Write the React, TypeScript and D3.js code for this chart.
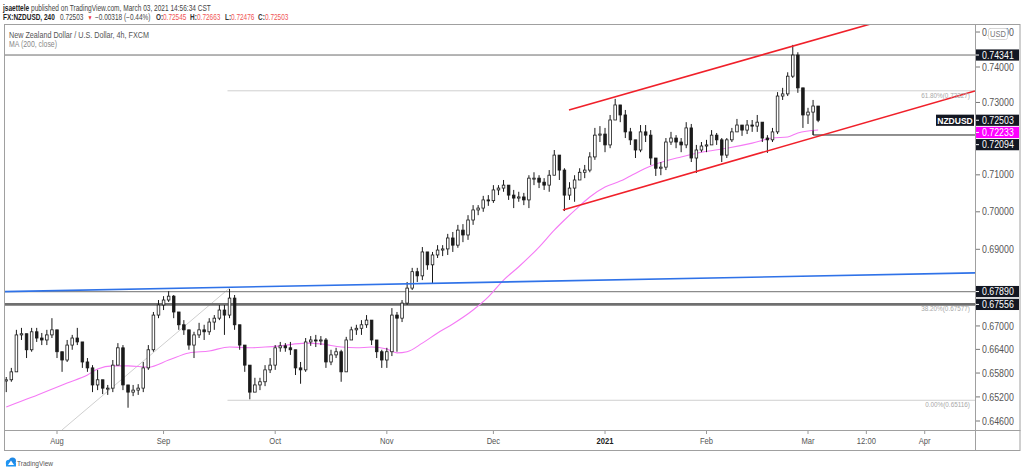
import React, { useEffect } from "react";
import * as d3 from "d3";

// ---- Daily OHLC (NZDUSD, Jul 20 2020 .. Mar 3 2021, trading days) ----
const firstOpen = 0.656;
const closes = [
  0.6563, 0.6583, 0.6677, 0.668, 0.6639, 0.6685, 0.6669, 0.6664, 0.6677, 0.669,
  0.6634, 0.6613, 0.6651, 0.6669, 0.6659, 0.6608, 0.6593, 0.655, 0.6563, 0.6542,
  0.6542, 0.66, 0.6644, 0.655, 0.6532, 0.6537, 0.6542, 0.6593, 0.6639, 0.6728,
  0.6754, 0.6767, 0.6777, 0.6736, 0.6703, 0.669, 0.6651, 0.6677, 0.669, 0.6685,
  0.671, 0.672, 0.6741, 0.6728, 0.6772, 0.6703, 0.6651, 0.66, 0.6532, 0.655,
  0.6558, 0.6588, 0.66, 0.6644, 0.6649, 0.6644, 0.6639, 0.6593, 0.6588, 0.6659,
  0.6664, 0.6662, 0.6664, 0.6608, 0.6626, 0.6634, 0.6583, 0.6664, 0.669, 0.6694,
  0.6703, 0.6715, 0.6664, 0.6634, 0.6613, 0.6634, 0.6728, 0.672, 0.6759, 0.6798,
  0.6841, 0.683, 0.6893, 0.6859, 0.6885, 0.6898, 0.6901, 0.693, 0.6911, 0.6951,
  0.6938, 0.6978, 0.7005, 0.701, 0.7032, 0.703, 0.7059, 0.7064, 0.7072, 0.7045,
  0.7037, 0.704, 0.7032, 0.7091, 0.7091, 0.708, 0.7072, 0.7099, 0.7154, 0.7113,
  0.7045, 0.7064, 0.7086, 0.7107, 0.7113, 0.7149, 0.7209, 0.7212, 0.7182, 0.7251,
  0.7293, 0.7265, 0.7218, 0.7196, 0.7168, 0.7218, 0.7209, 0.7146, 0.7118, 0.7121,
  0.719, 0.7201, 0.719, 0.7182, 0.7229, 0.7146, 0.7168, 0.7179, 0.7182, 0.7209,
  0.7196, 0.7154, 0.7196, 0.7218, 0.7237, 0.7223, 0.7237, 0.7234, 0.7245, 0.7201,
  0.7196, 0.7218, 0.7318, 0.7324, 0.7374, 0.7434, 0.7341, 0.7265, 0.7273, 0.729,
  0.72503,
];
const highs = [
  0.657, 0.6593, 0.669, 0.6695, 0.6677, 0.6695, 0.6695, 0.6682, 0.669, 0.672,
  0.669, 0.6634, 0.6664, 0.6677, 0.6695, 0.6659, 0.6618, 0.66, 0.6588, 0.6558,
  0.655, 0.6613, 0.6656, 0.6651, 0.655, 0.655, 0.6552, 0.6608, 0.6651, 0.6736,
  0.6767, 0.6777, 0.679, 0.678, 0.6728, 0.6715, 0.669, 0.6685, 0.6708, 0.6703,
  0.672, 0.6728, 0.6754, 0.6754, 0.6796, 0.678, 0.6703, 0.6651, 0.66, 0.6568,
  0.6568, 0.66, 0.6618, 0.6651, 0.6659, 0.6656, 0.6659, 0.6639, 0.6608, 0.6669,
  0.6674, 0.6677, 0.6674, 0.6669, 0.6639, 0.6644, 0.6639, 0.6672, 0.6698, 0.6703,
  0.6715, 0.6728, 0.6715, 0.6664, 0.6639, 0.6644, 0.6746, 0.6736, 0.6767, 0.6814,
  0.6851, 0.6851, 0.6906, 0.6893, 0.6893, 0.6911, 0.6911, 0.6941, 0.6946, 0.6965,
  0.6967, 0.6991, 0.7018, 0.7018, 0.7043, 0.7045, 0.7072, 0.7072, 0.7086, 0.7072,
  0.7059, 0.7054, 0.7051, 0.7099, 0.7107, 0.7099, 0.7091, 0.7113, 0.7168, 0.7146,
  0.7118, 0.708, 0.7099, 0.7118, 0.7127, 0.7162, 0.7229, 0.7234, 0.7229, 0.7265,
  0.731, 0.7293, 0.7279, 0.7229, 0.7196, 0.7237, 0.7237, 0.7223, 0.7146, 0.7135,
  0.7201, 0.7218, 0.7209, 0.7201, 0.7245, 0.724, 0.7182, 0.719, 0.7196, 0.7223,
  0.7215, 0.7201, 0.7201, 0.7229, 0.7254, 0.7237, 0.7251, 0.7251, 0.7265, 0.7245,
  0.7209, 0.7229, 0.7329, 0.7341, 0.7385, 0.7463, 0.7442, 0.7341, 0.7285, 0.7307,
  0.729,
];
const lows = [
  0.6532, 0.6558, 0.6583, 0.6664, 0.6618, 0.6634, 0.6659, 0.6651, 0.6651, 0.6669,
  0.6618, 0.6583, 0.6608, 0.6639, 0.6651, 0.6593, 0.6583, 0.6532, 0.6537, 0.6527,
  0.6525, 0.6532, 0.66, 0.6537, 0.6493, 0.6522, 0.6525, 0.6532, 0.6588, 0.6634,
  0.672, 0.6741, 0.6762, 0.672, 0.669, 0.6677, 0.6639, 0.6618, 0.6669, 0.6664,
  0.6677, 0.669, 0.6715, 0.6677, 0.672, 0.669, 0.6639, 0.6583, 0.6514, 0.6532,
  0.6537, 0.6547, 0.658, 0.6588, 0.6634, 0.6634, 0.6626, 0.6575, 0.6553, 0.6583,
  0.6649, 0.6646, 0.6651, 0.6593, 0.66, 0.6618, 0.6558, 0.6583, 0.6664, 0.6677,
  0.6677, 0.6695, 0.6651, 0.6618, 0.6593, 0.6593, 0.6623, 0.6634, 0.671, 0.6754,
  0.6793, 0.6814, 0.6819, 0.6846, 0.6811, 0.6877, 0.6882, 0.6885, 0.6893, 0.6904,
  0.6919, 0.6925, 0.6965, 0.6991, 0.7, 0.7016, 0.7024, 0.7045, 0.7054, 0.7032,
  0.701, 0.7027, 0.7018, 0.701, 0.7072, 0.7064, 0.7059, 0.7054, 0.7099, 0.7086,
  0.7002, 0.7032, 0.7027, 0.7086, 0.7091, 0.7107, 0.7141, 0.719, 0.7162, 0.7173,
  0.7251, 0.7245, 0.7201, 0.7182, 0.7146, 0.7162, 0.719, 0.7127, 0.7097, 0.7099,
  0.7113, 0.7182, 0.7173, 0.7162, 0.7173, 0.7135, 0.7105, 0.7162, 0.7162, 0.7182,
  0.7182, 0.7135, 0.7146, 0.719, 0.7218, 0.7207, 0.7212, 0.7218, 0.7218, 0.719,
  0.716, 0.719, 0.7212, 0.7307, 0.7318, 0.7369, 0.7327, 0.7229, 0.724, 0.72094,
  0.7245,
];

// MA(200, close) sampled along the series (trading-day index, value)
const maBar = [0, 5, 12, 16, 18, 21, 24, 28, 32, 36, 40, 44, 48, 51, 54, 59, 62, 66, 69, 72, 75, 77, 79, 82, 85, 88, 92, 95, 98, 101, 105, 108, 110, 113, 115, 118, 121, 123, 127, 133, 137, 142, 147, 151, 154, 156, 160];
const maVal = [0.6495, 0.6519, 0.6555, 0.6575, 0.659, 0.6598, 0.6598, 0.6595, 0.6613, 0.6631, 0.6636, 0.6646, 0.6644, 0.6646, 0.6649, 0.6656, 0.6654, 0.6646, 0.6644, 0.6646, 0.6641, 0.6631, 0.6634, 0.6656, 0.6682, 0.6705, 0.6741, 0.6775, 0.6819, 0.6854, 0.6906, 0.6951, 0.6978, 0.7016, 0.704, 0.7067, 0.7083, 0.7097, 0.7124, 0.7149, 0.7162, 0.7173, 0.7187, 0.7201, 0.7204, 0.7215, 0.72233];

// Axis ticks
const timeTickDates = ["2020-08-03", "2020-09-01", "2020-10-01", "2020-11-02", "2020-12-01", "2021-01-04", "2021-02-01", "2021-03-01", "2021-03-16T12", "2021-04-01"];
const timeTickLabels = ["Aug", "Sep", "Oct", "Nov", "Dec", "2021", "Feb", "Mar", "12:00", "Apr"];
const priceTicks = [0.75, 0.74, 0.73, 0.71, 0.7, 0.69, 0.67, 0.664, 0.658, 0.652, 0.646];

// Right-axis price markers
const markerValues = [0.74341, 0.72503, 0.72233, 0.72094, 0.6789, 0.67556];
const markerFill = ["#131722", "#131722", "#ff00ff", "#131722", "#131722", "#131722"];

// Header pieces (text, colour, bold, x)
const headerParts: [string, string, boolean, number][] = [
  ["FX:NZDUSD, 240", "#222", true, 3],
  ["0.72503", "#444", false, 60],
  ["▼", "#ef3b3b", false, 87.5],
  ["−0.00318 (−0.44%)", "#444", false, 95],
  ["O:", "#333", true, 156],
  ["0.72545", "#f05454", false, 163],
  ["H:", "#333", true, 190],
  ["0.72663", "#f05454", false, 197],
  ["L:", "#333", true, 225],
  ["0.72476", "#f05454", false, 231],
  ["C:", "#333", true, 258],
  ["0.72503", "#f05454", false, 265],
];

// Drawings: anchors as [trading-day index, price]
const channelUpper = [[110.9, 0.7279], [172.2, 0.7531]];
const channelLower = [[109.7, 0.7005], [190.9, 0.7332]];
const blueTrend = [[0, 0.6789], [180, 0.6835]];
const fibTrend = [[11.0, 0.6438], [44, 0.6798]];
const fibStart = 43.6;
const fibLevels = [0.73327, 0.67577, 0.65116];
const fibLabels = ["61.80%(0.73327)", "38.20%(0.67577)", "0.00%(0.65116)"];
const hLevels = [0.74341, 0.6789, 0.67556];
const recentLow = { bar: 159, price: 0.72094 };

const PL = 4, PR = 975, PT = 24, PB = 430;
const FONT = "'Liberation Sans', Arial, sans-serif";

function key(d: Date) {
  return d.toISOString().slice(0, 10);
}
function buildDays(): Date[] {
  const out: Date[] = [];
  const holidays = new Set(["2020-12-25", "2021-01-01"]);
  const d = new Date(Date.UTC(2020, 6, 20));
  const end = new Date(Date.UTC(2021, 3, 30));
  while (d <= end) {
    const wd = d.getUTCDay();
    if (wd !== 0 && wd !== 6 && !holidays.has(key(d))) out.push(new Date(d));
    d.setUTCDate(d.getUTCDate() + 1);
  }
  return out;
}

function CT(props: any) {
  const { x, y, sx = 0.88, size = 10, children, ...rest } = props;
  return (
    <text transform={`translate(${x},${y}) scale(${sx},1)`} fontSize={size} fontFamily={FONT} {...rest}>
      {children}
    </text>
  );
}

export default function App() {
  useEffect(() => {
    document.body.style.margin = "0";
  }, []);

  const days = buildDays();
  const idx = new Map<string, number>(days.map((d, i) => [key(d), i] as [string, number]));
  const x = d3.scaleLinear().domain([idx.get("2020-08-03")!, idx.get("2021-03-01")!]).range([57, 808]);
  const y = d3.scaleLog().domain([0.74, 0.646]).range([67, 421]);

  const bars = closes.map((c, i) => {
    const o = i === 0 ? firstOpen : closes[i - 1];
    return { i, o, c, h: Math.max(highs[i], o, c), l: Math.min(lows[i], o, c) };
  });

  const maLine = d3
    .line<number>()
    .x((_, k) => x(maBar[k]))
    .y((v) => y(v))
    .curve(d3.curveMonotoneX)(maVal) as string;

  const seg = (a: number[][]) => ({ x1: x(a[0][0]), y1: y(a[0][1]), x2: x(a[1][0]), y2: y(a[1][1]) });
  const extend = (a: number[][]) => {
    const s = seg(a);
    const m = (s.y2 - s.y1) / (s.x2 - s.x1);
    return { x1: PL, y1: s.y1 + (PL - s.x1) * m, x2: PR, y2: s.y1 + (PR - s.x1) * m };
  };
  const up = seg(channelUpper);
  const lo = seg(channelLower);
  const bl = extend(blueTrend);
  const ft = seg(fibTrend);

  // marker label positions, pushed apart
  const order = markerValues.map((v, k) => ({ v, k, yy: y(v) })).sort((a, b) => a.yy - b.yy);
  for (let k = 1; k < order.length; k++) {
    if (order[k].yy < order[k - 1].yy + 12.2) order[k].yy = order[k - 1].yy + 12.2;
  }

  const tickX = timeTickDates.map((s) => {
    const [d, h] = s.split("T");
    return x((idx.get(d) as number) + (h ? +h / 24 : 0));
  });

  const bw = 2.6;
  const red = "#f0202a";
  const hsx = 0.78;

  return (
    <svg width={1024} height={471} style={{ position: "absolute", left: 0, top: 0, background: "#fff" }} fontFamily={FONT}>
      <defs>
        <clipPath id="plotClip">
          <rect x={PL} y={PT} width={PR - PL} height={PB - PT} />
        </clipPath>
      </defs>
      <rect x={0} y={0} width={1024} height={471} fill="#fff" />

      {/* header */}
      <text transform="translate(3,11) scale(0.77,1)" fontSize={8.5} fill="#444">
        <tspan fontWeight="bold" fill="#222">jsaettele</tspan>
        <tspan> published on TradingView.com, March 03, 2021 14:56:34 CST</tspan>
      </text>
      <text transform={`translate(0,20) scale(${hsx},1)`} fontSize={8.3}>
        {headerParts.map(([t, c, b, px], k) => (
          <tspan key={"h" + k} x={px / hsx} fill={c} fontWeight={b ? "bold" : "normal"} fontSize={t === "▼" ? 6.5 : 8.3}>
            {t}
          </tspan>
        ))}
      </text>

      {/* plot content */}
      <g clipPath="url(#plotClip)">
        {/* fib levels */}
        {fibLevels.map((v, k) => (
          <line key={"f" + k} x1={x(fibStart)} x2={PR} y1={y(v)} y2={y(v)} stroke="#cfcfcf" strokeWidth={1} />
        ))}
        <line {...ft} stroke="#cfcfcf" strokeWidth={1} />
        {/* horizontal levels */}
        <line x1={PL} x2={PR} y1={y(hLevels[0])} y2={y(hLevels[0])} stroke="#6a6a6a" strokeWidth={1} />
        <line x1={PL} x2={PR} y1={y(hLevels[1])} y2={y(hLevels[1])} stroke="#8c8c8c" strokeWidth={1.3} />
        <line x1={PL} x2={PR} y1={y(hLevels[2])} y2={y(hLevels[2])} stroke="#6f6f6f" strokeWidth={2.6} />
        <line x1={x(recentLow.bar)} x2={PR} y1={y(recentLow.price)} y2={y(recentLow.price)} stroke="#222" strokeWidth={1} />
        <line x1={x(recentLow.bar)} x2={x(recentLow.bar)} y1={y(recentLow.price) - 5} y2={y(recentLow.price)} stroke="#222" strokeWidth={1} />

        {/* MA */}
        <path d={maLine} fill="none" stroke="#f57af5" strokeWidth={1.1} />

        {/* candles */}
        {bars.map((b) => {
          const cx = x(b.i);
          const top = y(Math.max(b.o, b.c));
          const bot = y(Math.min(b.o, b.c));
          const upBar = b.c >= b.o;
          return (
            <g key={b.i}>
              <line x1={cx} x2={cx} y1={y(b.h)} y2={y(b.l)} stroke="#1a1a1a" strokeWidth={1} />
              <rect
                x={cx - bw / 2}
                y={top}
                width={bw}
                height={Math.max(1, bot - top)}
                fill={upBar ? "#fff" : "#1a1a1a"}
                stroke="#1a1a1a"
                strokeWidth={0.8}
              />
            </g>
          );
        })}

        {/* trend lines */}
        <line {...bl} stroke="#2f72e8" strokeWidth={1.6} />
        <line {...up} stroke={red} strokeWidth={1.6} />
        <line {...lo} stroke={red} strokeWidth={1.6} />

        {/* fib labels */}
        {fibLabels.map((t, k) => (
          <CT key={"fl" + k} x={970} y={y(fibLevels[k]) + 7} size={7.5} sx={0.85} fill="#a8a8a8" textAnchor="end">
            {t}
          </CT>
        ))}

        {/* legend */}
        <text x={9} y={37.5} fontSize={9} fill="#555" textLength={140} lengthAdjust="spacingAndGlyphs">
          New Zealand Dollar / U.S. Dollar, 4h, FXCM
        </text>
        <text x={9} y={47} fontSize={9} fill="#888" textLength={48} lengthAdjust="spacingAndGlyphs">
          MA (200, close)
        </text>
      </g>

      {/* frame */}
      <rect x={PL + 0.5} y={PT + 0.5} width={1020 - PL - 0.5} height={450 - PT} fill="none" stroke="#a0a0a0" strokeWidth={1} />
      <line x1={PR + 0.5} x2={PR + 0.5} y1={PT} y2={450.5} stroke="#a0a0a0" strokeWidth={1} />
      <line x1={PL} x2={1020.5} y1={PB + 0.5} y2={PB + 0.5} stroke="#a0a0a0" strokeWidth={1} />

      {/* price axis ticks */}
      {priceTicks.map((v) => (
        <g key={"pt" + v}>
          <line x1={PR + 1} x2={PR + 5} y1={y(v)} y2={y(v)} stroke="#777" strokeWidth={1} />
          <CT x={982} y={y(v) + 3.6} fill="#555">{v.toFixed(5)}</CT>
        </g>
      ))}

      {/* USD badge */}
      <rect x={988.5} y={28.5} width={19} height={11} rx={2} fill="#fff" stroke="#d6d6d6" />
      <CT x={998} y={37} size={8.5} fill="#777" textAnchor="middle">USD</CT>

      {/* price markers */}
      {order.map((m) => (
        <g key={"m" + m.k}>
          <rect x={976} y={m.yy - 5.6} width={43} height={11.2} fill={markerFill[m.k]} />
          <line x1={976} x2={979} y1={m.yy} y2={m.yy} stroke="#fff" strokeWidth={1} />
          <CT x={982} y={m.yy + 3.6} fill="#fff">{markerValues[m.k].toFixed(5)}</CT>
        </g>
      ))}
      {/* NZDUSD symbol tag */}
      {(() => {
        const m = order.find((o) => o.k === 1)!;
        return (
          <g>
            <rect x={936} y={m.yy - 5.6} width={38} height={11.2} fill="#131722" />
            <CT x={955} y={m.yy + 3.6} size={9.5} sx={0.9} fill="#fff" fontWeight="bold" textAnchor="middle">NZDUSD</CT>
          </g>
        );
      })()}

      {/* time axis */}
      {tickX.map((tx, k) => (
        <g key={"tt" + k}>
          <line x1={tx} x2={tx} y1={PB + 1} y2={PB + 4} stroke="#999" strokeWidth={1} />
          <CT
            x={tx}
            y={444}
            size={9.5}
            sx={0.8}
            fill={timeTickLabels[k] === "2021" ? "#222" : "#555"}
            fontWeight={timeTickLabels[k] === "2021" ? "bold" : "normal"}
            textAnchor="middle"
          >
            {timeTickLabels[k]}
          </CT>
        </g>
      ))}

      {/* TradingView logo */}
      <g>
        <circle cx={9} cy={463} r={3.2} fill="#2196f3" />
        <circle cx={12.5} cy={461} r={3.5} fill="#1e88e5" />
        <rect x={6} y={463} width={10} height={3.5} fill="#2196f3" />
        <path d="M8 465 L11 460.5 L14 465 Z" fill="#fff" />
        <CT x={17} y={465.5} size={8} sx={0.82} fill="#555">TradingView</CT>
      </g>
    </svg>
  );
}
